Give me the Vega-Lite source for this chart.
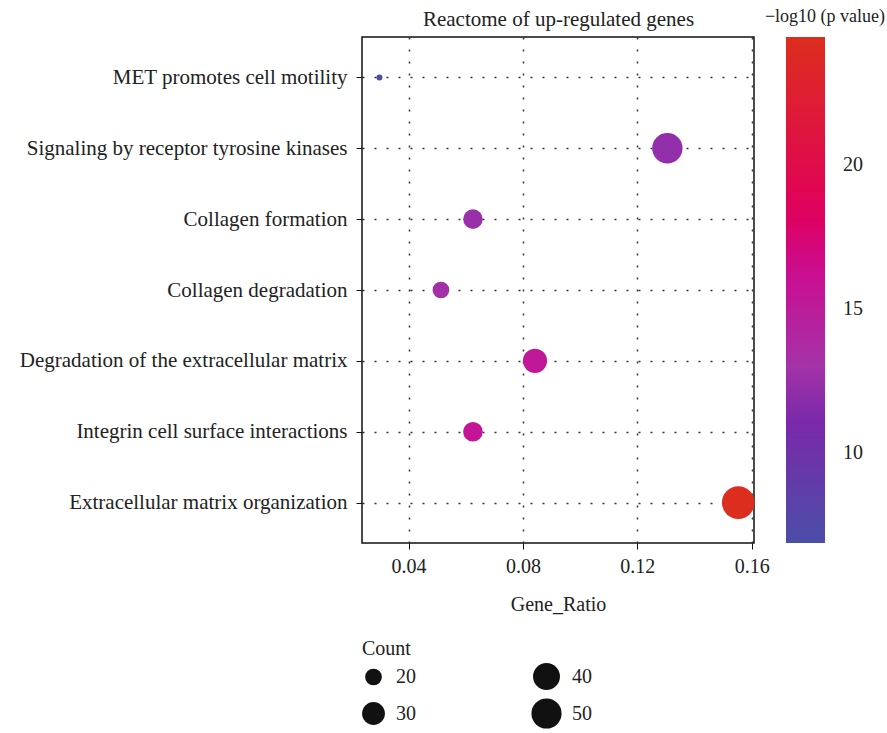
{
  "$schema": "https://vega.github.io/schema/vega-lite/v6.json",
  "width": 392,
  "height": 506,
  "autosize": {"type": "none"},
  "padding": {"left": 362, "top": 37, "right": 133, "bottom": 190},
  "background": "white",
  "config": {
    "view": {"stroke": "#111", "strokeWidth": 1.5},
    "font": "Liberation Serif",
    "axis": {"labelFont": "Liberation Serif", "titleFont": "Liberation Serif", "labelColor": "#222", "titleColor": "#222", "titleFontWeight": "normal"},
    "legend": {"labelFont": "Liberation Serif", "titleFont": "Liberation Serif", "labelColor": "#222", "titleColor": "#222", "padding": 0}
  },
  "data": {
    "values": [
      {"term": "MET promotes cell motility", "ratio": 0.0298, "count": 12, "logp": 6.875},
      {"term": "Signaling by receptor tyrosine kinases", "ratio": 0.1305, "count": 51, "logp": 12.2},
      {"term": "Collagen formation", "ratio": 0.0625, "count": 24, "logp": 12.5},
      {"term": "Collagen degradation", "ratio": 0.0513, "count": 20, "logp": 12.9},
      {"term": "Degradation of the extracellular matrix", "ratio": 0.0842, "count": 33, "logp": 15.3},
      {"term": "Integrin cell surface interactions", "ratio": 0.0625, "count": 24, "logp": 15.6},
      {"term": "Extracellular matrix organization", "ratio": 0.1553, "count": 60, "logp": 24.44}
    ]
  },
  "encoding": {
    "y": {
      "field": "term", "type": "nominal",
      "sort": ["MET promotes cell motility", "Signaling by receptor tyrosine kinases", "Collagen formation", "Collagen degradation", "Degradation of the extracellular matrix", "Integrin cell surface interactions", "Extracellular matrix organization"],
      "scale": {"type": "point", "padding": 0.57},
      "axis": {
        "title": null, "labelFontSize": 21, "labelPadding": 9, "labelLimit": 400,
        "tickSize": 6, "tickColor": "#111", "domain": false,
        "grid": true, "gridDash": [2, 10], "gridColor": "#333", "gridWidth": 1.5
      }
    }
  },
  "layer": [
    {
      "mark": {"type": "circle", "opacity": 1},
      "encoding": {
        "x": {
          "field": "ratio", "type": "quantitative",
          "scale": {"domain": [0.0237, 0.1608], "nice": false, "zero": false},
          "axis": {
            "title": "Gene_Ratio", "values": [0.04, 0.08, 0.12, 0.16], "format": ".2f",
            "labelFontSize": 20, "titleFontSize": 20, "labelPadding": 7, "titlePadding": 18,
            "tickSize": 6, "tickColor": "#111", "domain": false,
            "grid": true, "gridDash": [2, 10], "gridColor": "#333", "gridWidth": 1.5
          }
        },
        "size": {
          "field": "count", "type": "quantitative",
          "scale": {"type": "sqrt", "domain": [12, 60], "range": [36, 1069], "zero": false},
          "legend": {
            "title": "Count", "orient": "none", "legendX": 0, "legendY": 602,
            "values": [20, 30], "rowPadding": 15,
            "symbolFillColor": "#111", "symbolStrokeWidth": 0, "symbolOpacity": 1, "symbolType": "circle",
            "labelFontSize": 20, "titleFontSize": 20, "titleFontWeight": "normal", "labelOffset": 11, "titlePadding": 8
          }
        },
        "color": {
          "field": "logp", "type": "quantitative",
          "scale": {
            "domain": [6.875, 11.1, 13.1, 16.35, 18.4, 24.44],
            "range": ["#4b4ea8", "#7a28aa", "#a632a8", "#cc0c90", "#e0005a", "#dc2e1e"],
            "interpolate": "rgb"
          },
          "legend": {
            "title": "−log10 (p value)", "orient": "none", "legendX": 403, "legendY": -29,
            "direction": "vertical", "gradientLength": 506, "gradientThickness": 39,
            "values": [10, 15, 20], "labelOffset": 18, "labelFontSize": 20,
            "titleFontSize": 18, "titleFontWeight": "normal", "titleAnchor": "middle", "titleAlign": "center", "titlePadding": 11,
            "gradientStrokeWidth": 0
          }
        }
      }
    },
    {
      "mark": {"type": "circle", "opacity": 0, "color": "#111"},
      "encoding": {
        "x": {
          "field": "ratio", "type": "quantitative",
          "scale": {"domain": [0.0237, 0.1608], "nice": false, "zero": false},
          "axis": {
            "orient": "top", "title": "Reactome of up-regulated genes", "titleFontSize": 21, "titlePadding": 8,
            "labels": false, "ticks": false, "grid": false, "domain": false
          }
        },
        "size": {
          "field": "count", "type": "quantitative",
          "scale": {"type": "sqrt", "domain": [12, 60], "range": [36, 1069], "zero": false},
          "legend": {
            "title": null, "orient": "none", "legendX": 169, "legendY": 626,
            "values": [40, 50], "rowPadding": 8,
            "symbolFillColor": "#111", "symbolStrokeWidth": 0, "symbolOpacity": 1, "symbolType": "circle",
            "labelFontSize": 20, "labelOffset": 10
          }
        }
      }
    }
  ],
  "resolve": {"scale": {"size": "independent"}, "legend": {"size": "independent"}, "axis": {"x": "independent"}}
}
